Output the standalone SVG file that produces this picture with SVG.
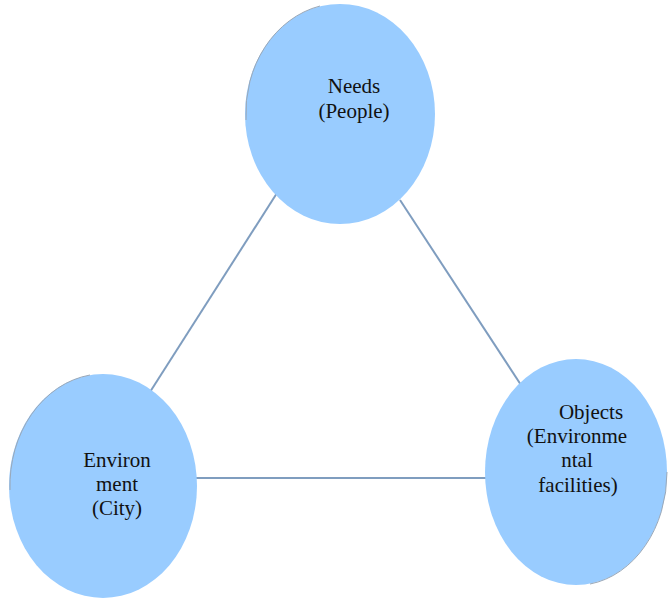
<svg xmlns="http://www.w3.org/2000/svg" width="670" height="600" viewBox="0 0 670 600">
<style>
.node{fill:#99ccff;}
.shadow{fill:none;stroke:#9aa8b8;stroke-width:1;}
.edge{stroke:#7f9dbf;stroke-width:2;fill:none;}
text{font-family:"Liberation Serif","Times New Roman",serif;font-size:21px;fill:#111;text-anchor:middle;}
</style>
<rect width="670" height="600" fill="#ffffff"/>
<g id="connectors">
<line class="edge" x1="277" y1="193" x2="150" y2="392"/>
<line class="edge" x1="400" y1="200" x2="521" y2="385"/>
<line class="edge" x1="195" y1="478" x2="490" y2="478"/>
</g>
<g id="needs">
<ellipse class="node" cx="340" cy="114" rx="95" ry="110"/>
<path class="shadow" d="M246,120 A95,110 0 0 1 320,6"/>
<text x="354" y="93">Needs</text>
<text x="354" y="118">(People)</text>
</g>
<g id="environment">
<ellipse class="node" cx="103" cy="486" rx="94" ry="112"/>
<path class="shadow" d="M10,490 A94,112 0 0 1 90,375"/>
<text x="117" y="467">Environ</text>
<text x="117" y="491">ment</text>
<text x="117" y="515">(City)</text>
</g>
<g id="objects">
<ellipse class="node" cx="576" cy="472" rx="91" ry="113"/>
<path class="shadow" d="M667,472 A91,113 0 0 1 590,584"/>
<text x="591" y="419">Objects</text>
<text x="577" y="443">(Environme</text>
<text x="577" y="467">ntal</text>
<text x="578" y="492">facilities)</text>
</g>
</svg>
